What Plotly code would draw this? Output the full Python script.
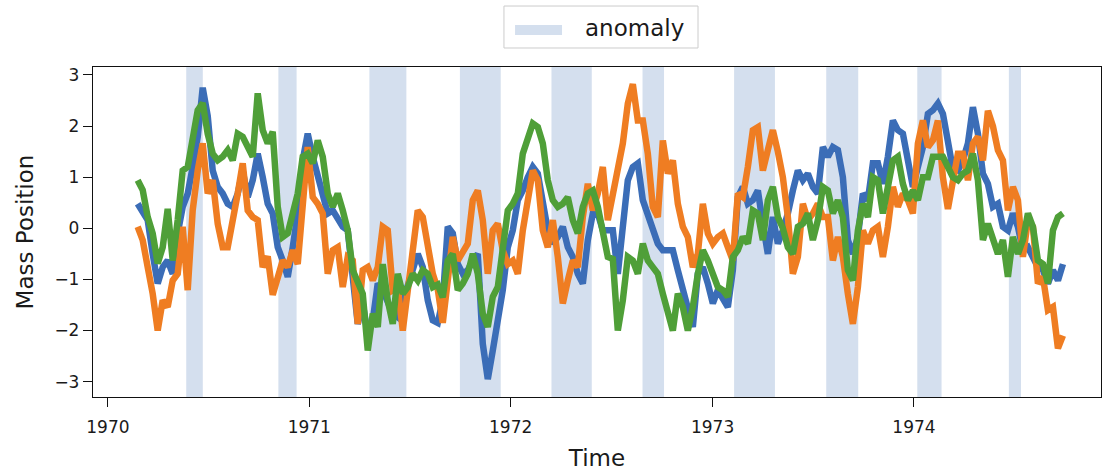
import pandas as pd
import plotly.graph_objects as go

# Sampling grid of the three mass-position traces
t_start = "1970-02-24"
t_end = "1974-09-28"
n_samples = 186

mass_a = [
    0.48, 0.29, 0.16, -0.50, -1.08, -0.76, -0.63, -0.89, -0.10, 0.42, 0.68, 1.20, 1.79, 2.75, 2.20, 1.13,
    0.81, 0.68, 0.48, 0.42, 0.68, 1.13, 0.61, 0.94, 1.46, 1.00, 0.48, 0.29,
    -0.37, -0.63, -0.95, -0.37, 0.29, 1.33, 1.85, 1.40, 1.00, 0.68, 0.29, 0.35, 0.16, 0.03, -0.04, -0.89,
    -1.87, -1.47, -2.06, -1.80, -1.08, -1.21, -1.47, -1.67, -1.74, -1.41, -1.08, -0.82, -0.50, -0.76, -1.41,
    -1.80, -1.85, -1.40,
    0.03, -0.10, -0.70, -0.89, -0.82, -0.63, -0.50, -2.26, -2.95, -2.39, -1.87, -1.21, -0.37, -0.04, 0.55,
    0.74, 1.00, 1.20, 1.07, 0.55, -0.04, -0.30, -0.17, 0.03, -0.37, -0.56, -0.89, -1.08, -0.23, 0.29, 0.29,
    -0.04, -0.04, -0.04,
    -0.89, -0.10, 0.94, 1.20, 1.27, 0.55, 0.29, -0.04, -0.30, -0.43, -0.43, -0.43, -0.82, -1.21, -1.54,
    -1.93, -0.89, -0.76, -1.08, -1.47, -1.21, -1.41, -1.54, -0.82, 0.61, 0.81, 0.48, 0.55, 0.74, 0.09,
    -0.50, 0.22, -0.30, -0.04,
    0.29, 0.74, 1.13, 0.94, 1.07, 0.81, 0.68, 1.59, 1.40, 1.59, 1.53, 1.00, -0.23, -0.50, -0.17, 0.68,
    0.55, 1.27, 1.27, 0.87, 1.40, 2.11, 1.92, 1.85, 1.33, 0.81, 1.20, 1.59, 2.24, 2.31, 2.44, 2.24, 1.70,
    1.15,
    1.13, 1.33, 1.66, 2.37, 1.85, 1.07, 0.87, 0.42, 0.48, 0.03, -0.04, 0.29, 0.03, -0.43, -0.37, -0.56,
    -0.76, -0.82, -1.08, -0.82, -1.02, -0.70,
]

mass_b = [
    0.03, -0.23, -0.76, -1.28, -2.00, -1.41, -1.54, -1.02, -0.89, 0.03, -1.21, 0.35, 1.13, 1.66, 0.68,
    0.94, 0.09, -0.37, -0.37, 0.09, 0.68, 1.27, 0.35, 0.22, 0.16, -0.76, -0.55, -1.30,
    -0.95, -0.63, -0.76, -0.43, -0.70, 0.48, 1.59, 0.61, 0.48, 0.29, -0.89, -0.43, -0.37, -1.15, -0.56,
    -0.63, -1.87, -0.82, -0.76, -1.02, -0.76, 0.03, -0.04, -1.21, -1.15, -2.00, -1.28, -0.37, 0.35, 0.22,
    -0.43, -0.89, -1.20, -1.85,
    -1.02, -0.17, -0.63, -0.43, -0.30, 0.55, 0.74, 0.16, -0.89, -0.04, 0.09, -0.43, -0.70, -0.63, -0.89,
    -0.04, 0.55, 1.13, 0.94, -0.04, -0.37, 0.16, -0.56, -1.47, -1.02, -0.63, -0.76, 0.22, 0.87, 0.35, 0.68,
    1.20, 0.16, 0.61,
    1.07, 1.66, 2.44, 2.82, 2.11, 2.11, 1.46, 0.42, 0.22, 1.72, 1.07, 1.33, 0.48, 0.03, -0.17, -0.76,
    -0.50, 0.48, -0.10, -0.30, -0.17, -0.10, -0.37, -0.63, 0.68, 0.61, 1.20, 1.92, 1.98, 1.13, 1.53, 1.92,
    1.50, 1.00,
    0.22, -0.89, -0.56, 0.48, 0.16, 0.29, 0.48, 0.22, 0.22, -0.63, -0.17, -0.56, -1.28, -1.87, -1.15,
    -0.04, -0.30, -0.04, 0.03, -0.56, 0.03, 0.81, 0.42, 0.68, 0.55, 0.29, 1.66, 2.11, 1.59, 1.72, 2.11,
    1.00, 0.38, 1.00,
    1.46, 1.46, 0.94, 1.66, 1.79, 1.33, 2.30, 2.00, 1.53, 1.33, 0.35, 0.81, 0.55, -0.56, 0.16, 0.03,
    -1.08, -0.95, -1.60, -1.54, -2.35, -2.10,
]

mass_c = [
    0.94, 0.75, 0.22, -0.10, -0.69, -0.37, 0.38, -0.63, 0.16, 1.13, 1.20, 1.85, 2.31, 2.45, 1.85, 1.46,
    1.33, 1.40, 1.53, 1.33, 1.85, 1.79, 1.59, 1.40, 2.64, 1.92, 1.66, 1.89,
    0.42, -0.17, -0.10, 0.29, 0.68, 1.40, 1.46, 1.27, 1.72, 1.40, 0.68, 0.42, 0.68, 0.35, -0.04, -0.82,
    -1.02, -1.28, -2.39, -1.67, -1.93, -0.70, -1.41, -1.87, -0.89, -1.28, -1.15, -0.89, -1.02, -0.82,
    -0.89, -1.15, -1.10, -1.35,
    -0.63, -0.50, -1.21, -1.08, -0.89, -0.50, -0.89, -1.67, -1.93, -1.34, -1.15, -0.43, 0.35, 0.48, 0.68,
    1.46, 1.72, 2.05, 1.98, 1.66, 0.94, 0.55, 0.42, 0.48, 0.61, 0.16, -0.10, 0.42, 0.68, 0.74, 0.42, -0.10,
    -0.56, -0.60,
    -2.00, -1.41, -0.56, -0.63, -0.89, -0.30, -0.63, -0.76, -0.89, -1.28, -1.67, -2.00, -1.28, -1.54,
    -2.00, -1.54, -0.89, -0.43, -0.63, -0.89, -1.15, -1.21, -1.34, -0.56, -0.43, -0.17, -0.30, 0.35, 0.29,
    -0.23, 0.55, 0.81, 0.22, 0.00,
    -0.37, -0.50, 0.03, 0.09, 0.29, -0.23, 0.16, 0.81, 0.74, 0.29, 0.55, 0.22, -0.82, -1.02, -0.04, 0.48,
    0.22, 1.00, 0.94, 0.29, 0.81, 1.33, 1.40, 0.87, 0.55, 0.74, 0.55, 1.00, 1.00, 1.40, 1.40, 1.40, 1.20,
    1.00,
    0.94, 1.07, 1.13, 1.46, 0.94, -0.23, 0.09, -0.23, -0.50, -0.23, -0.95, -0.17, -0.50, -0.23, 0.29, 0.03,
    -0.63, -0.70, -1.08, -0.04, 0.22, 0.29,
]

# Anomaly windows (start, end)
anomaly_start = ["1970-05-23", "1970-11-06", "1971-04-20", "1971-10-01", "1972-03-15",
                 "1972-08-27", "1973-02-09", "1973-07-26", "1974-01-07", "1974-06-22"]
anomaly_end = ["1970-06-22", "1970-12-09", "1971-06-26", "1971-12-14", "1972-05-27",
               "1972-10-05", "1973-04-24", "1973-09-22", "1974-02-20", "1974-07-14"]

x_range = ["1969-12-05", "1974-12-06"]
y_range = [-3.30, 3.155]
y_ticks = [-3, -2, -1, 0, 1, 2, 3]

series_colors = ["#3b6db7", "#ef7d22", "#4f9f38"]
band_color = "#d4dfee"
font_family = "DejaVu Sans"
text_color = "#1a1a1a"

time = pd.date_range(t_start, t_end, periods=n_samples)

fig = go.Figure()

# Shaded anomaly windows, one closed polygon per window
band_x, band_y = [], []
for s, e in zip(anomaly_start, anomaly_end):
    band_x += [s, e, e, s, s, None]
    band_y += [y_range[0], y_range[0], y_range[1], y_range[1], y_range[0], None]
fig.add_trace(go.Scatter(
    x=band_x, y=band_y, mode="lines", fill="toself", fillcolor=band_color,
    line=dict(width=0), hoverinfo="skip", showlegend=False, name="anomaly",
))

for values, color in zip([mass_a, mass_b, mass_c], series_colors):
    fig.add_trace(go.Scatter(
        x=time, y=values, mode="lines",
        line=dict(color=color, width=6.5), showlegend=False,
    ))

# Legend box with the anomaly patch
fig.add_shape(type="rect", xref="paper", yref="paper",
              x0=0.4077, x1=0.6002, y0=1.0576, y1=1.1848,
              line=dict(color="#cccccc", width=1), fillcolor="white", layer="above")
fig.add_shape(type="rect", xref="paper", yref="paper",
              x0=0.4187, x1=0.4653, y0=1.097, y1=1.1273,
              line=dict(width=0), fillcolor=band_color, layer="above")
fig.add_annotation(text="anomaly", xref="paper", yref="paper", x=0.486, y=1.118,
                   xanchor="left", yanchor="middle", showarrow=False,
                   font=dict(family=font_family, size=23, color=text_color))

fig.update_layout(
    width=1103, height=471,
    margin=dict(l=93, r=2, t=67, b=74),
    paper_bgcolor="white", plot_bgcolor="white",
    font=dict(family=font_family, color=text_color),
    showlegend=False,
)
fig.update_xaxes(
    type="date", range=x_range, tickformat="%Y", dtick="M12", tick0="1970-01-01",
    showgrid=False, zeroline=False, showline=True, mirror=True,
    linecolor="#111111", linewidth=1.3, ticks="outside", ticklen=9, tickwidth=1.3,
    tickcolor="#111111", tickfont=dict(size=17), ticklabelstandoff=5,
    title=dict(text="Time", font=dict(size=23), standoff=14),
)
fig.update_yaxes(
    range=y_range, tickvals=y_ticks,
    showgrid=False, zeroline=False, showline=True, mirror=True,
    linecolor="#111111", linewidth=1.3, ticks="outside", ticklen=9, tickwidth=1.3,
    tickcolor="#111111", tickfont=dict(size=17),
    title=dict(text="Mass Position", font=dict(size=23), standoff=14),
)

fig.write_html("out.html")
